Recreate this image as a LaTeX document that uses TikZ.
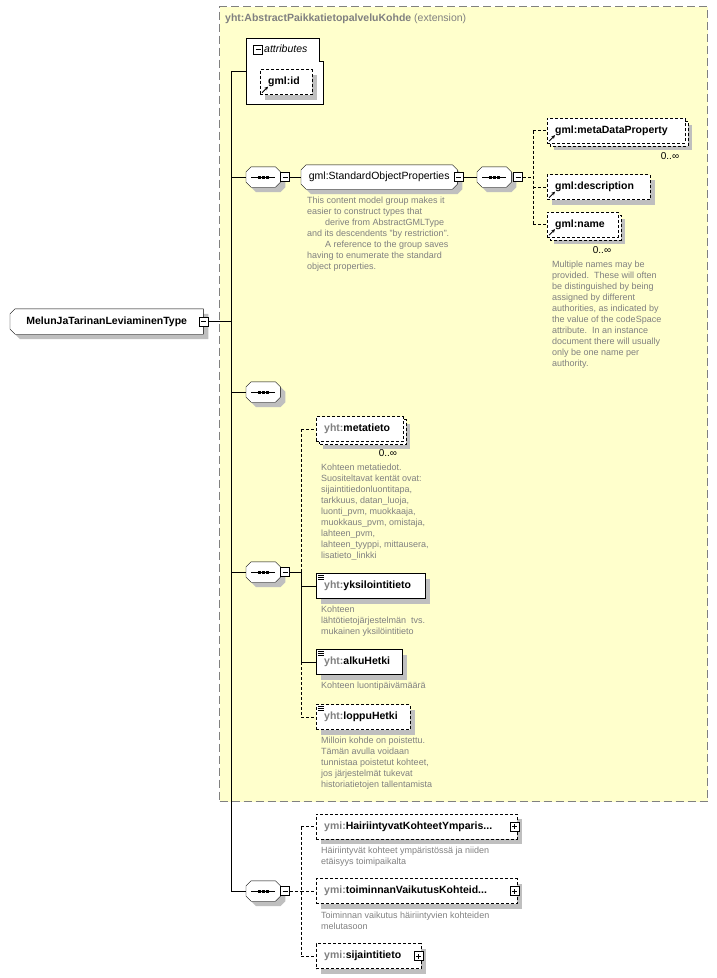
\documentclass[tikz,border=0pt]{standalone}
\usepackage{fontspec}
\setmainfont{Liberation Sans}
\usetikzlibrary{calc,arrows.meta}
\pgfdeclarelayer{back}
\pgfdeclarelayer{mid}
\pgfsetlayers{back,mid,main}
\definecolor{ybg}{RGB}{255,255,204}
\definecolor{docgray}{RGB}{128,128,128}
\definecolor{framegray}{RGB}{128,128,128}
\newcommand\lblfont{\fontsize{10.5}{12}\selectfont\bfseries}
\newcommand\grpfont{\fontsize{10.5}{12}\selectfont}
\newcommand\docfont{\fontsize{9}{11}\selectfont}
\newcommand\pfx[1]{\textcolor{docgray}{#1}}
\newcommand\refarrow[1]{\draw[line width=0.8pt,-{Stealth[length=3.5pt,width=3.5pt]}] ($(#1.south west)+(2,-2)$) -- ++(6,-6);}
\newcommand\stype[1]{\foreach \k in {2,4,6} {\draw[line width=0.7pt] ($(#1.north west)+(2,\k)$) -- ++(6,0);}}
\newcommand\seqdeco[1]{\draw[line width=0.8pt] ($(#1.center)+(-12,0)$) -- ($(#1.center)+(12,0)$);
  \foreach \k in {-4,0,4} {\fill ($(#1.center)+(\k,0)$) ++(-1.5,-1.5) rectangle ++(3,3);}}
% x, y-centre, total width, offset : grey shadow drawn before the element
\newcommand\eshadow[4]{\fill[black!25] (#1+#4,#2-12.5+#4) -- (#1+#3+#4,#2-12.5+#4) -- (#1+#3+#4,#2+12.5+#4) -- (#1+#4,#2+12.5+#4) -- cycle;}
\newcommand\ecopy[3]{\draw[dash pattern=on 3pt off 2pt,fill=white] (#1+3,#2-9.5) -- (#1+#3+3,#2-9.5) -- (#1+#3+3,#2+15.5) -- (#1+3,#2+15.5) -- cycle;}
\begin{document}
\begin{tikzpicture}[x=1pt,y=-1pt,line width=0.8pt,
  elem/.style={draw,fill=white,rectangle,anchor=west,minimum height=25pt,inner xsep=8pt,inner ysep=0pt,align=left,font=\lblfont},
  opt/.style={dash pattern=on 3pt off 2pt},
  holder/.style={anchor=west,inner sep=0pt},
  seqn/.style={holder,minimum width=34pt,minimum height=20pt},
  pmbox/.style={draw,fill=white,minimum size=9pt,inner sep=0pt,line width=0.7pt},
  minusbox/.style={pmbox,path picture={\draw[line width=0.7pt] ([xshift=2pt]path picture bounding box.west) -- ([xshift=-2pt]path picture bounding box.east);}},
  plusbox/.style={pmbox,path picture={\draw[line width=0.7pt] ([xshift=2pt]path picture bounding box.west) -- ([xshift=-2pt]path picture bounding box.east) ([yshift=2pt]path picture bounding box.south) -- ([yshift=-2pt]path picture bounding box.north);}},
  doc/.style={anchor=north west,align=left,font=\docfont,text=docgray,inner sep=0pt},
  mult/.style={font=\fontsize{10}{12}\selectfont,inner sep=0pt},
  shadowfill/.style={fill=black!25,draw=none},
]
\useasboundingbox (0,0) rectangle (717,978);
\begin{pgfonlayer}{back}
\fill[white] (0,0) rectangle (717,978);
\node[draw=framegray,dash pattern=on 8pt off 4pt,fill=ybg,anchor=north west,minimum width=488pt,minimum height=795pt,inner sep=0pt,line width=1pt] (ext) at (219,6) {};
\end{pgfonlayer}
\node[anchor=west,inner sep=0pt,text=docgray,font=\fontsize{10.5}{12}\selectfont] (title) at (225,19) {\textbf{yht:AbstractPaikkatietopalveluKohde} (extension)};

% main type
\node[holder,minimum width=193pt,minimum height=25pt,font=\lblfont] (main) at (10,321.5) {MelunJaTarinanLeviaminenType};
\node[minusbox] (mainm) at (main.east) {};
\coordinate (spT) at (231,71);

% attributes
\node[anchor=north west,minimum width=73pt,minimum height=66pt,inner sep=0pt] (attr) at (246,38) {};
\draw[fill=white] (attr.north west) -- (attr.north east) -- ([yshift=-23pt]attr.north east) -- ++(4,0) |- (attr.south west) -- cycle;
\node[minusbox] (attrm) at (258,49.5) {};
\node[anchor=west,inner sep=0pt,font=\fontsize{10.5}{12}\selectfont\itshape] (attrl) at (264,49) {attributes};
\eshadow{260}{82}{52}{5}
\node[elem,opt,text width=36pt] (gid) at (260,82) {\mbox{gml:id}};
\refarrow{gid}

% sequence 1 and StandardObjectProperties
\node[seqn] (s1) at (246,177) {};
\seqdeco{s1}
\node[minusbox] (s1m) at (285,177) {};
\node[holder,minimum width=156pt,minimum height=24pt,font=\grpfont] (sop) at (301,177) {gml:StandardObjectProperties};
\node[minusbox] (sopm) at (458.5,177) {};
\node[seqn] (s5) at (477,177) {};
\seqdeco{s5}
\node[minusbox] (s5m) at (518,177) {};
\coordinate (b5) at (533,177);
\eshadow{547}{130.5}{138}{7}
\ecopy{547}{130.5}{138}
\node[elem,opt,text width=122pt] (mdp) at (547,130.5) {\mbox{gml:metaDataProperty}};
\eshadow{547}{187}{103}{5}
\node[elem,opt,text width=87pt] (desc) at (547,187) {\mbox{gml:description}};
\eshadow{547}{224.5}{71}{7}
\ecopy{547}{224.5}{71}
\node[elem,opt,text width=55pt] (gname) at (547,224.5) {\mbox{gml:name}};
\refarrow{mdp}
\refarrow{desc}
\refarrow{gname}
\node[mult] (m1) at (670,156) {0..∞};
\node[mult] (m2) at (602,250) {0..∞};
\node[doc] (sopdoc) at (307,197) {This content model group makes it\\
easier to construct types that\\
\hspace*{18pt}derive from AbstractGMLType\\
and its descendents "by restriction".\\
\hspace*{18pt}A reference to the group saves\\
having to enumerate the standard\\
object properties.};
\node[doc] (namedoc) at (552,261) {Multiple names may be\\
provided.\ \ These will often\\
be distinguished by being\\
assigned by different\\
authorities, as indicated by\\
the value of the codeSpace\\
attribute.\ \ In an instance\\
document there will usually\\
only be one name per\\
authority.};

% sequence 2
\node[seqn] (s2) at (246,392) {};
\seqdeco{s2}

% sequence 3
\node[seqn] (s3) at (246,572) {};
\seqdeco{s3}
\node[minusbox] (s3m) at (285,572) {};
\coordinate (b3) at (301,572);
\eshadow{316}{429}{87}{7}
\ecopy{316}{429}{87}
\node[elem,opt,text width=71pt] (meta) at (316,429) {\mbox{\pfx{yht:}metatieto}};
\node[mult] (m3) at (388,453) {0..∞};
\node[doc] (metadoc) at (321,464) {Kohteen metatiedot.\\
Suositeltavat kentät ovat:\\
sijaintitiedonluontitapa,\\
tarkkuus, datan\_luoja,\\
luonti\_pvm, muokkaaja,\\
muokkaus\_pvm, omistaja,\\
lahteen\_pvm,\\
lahteen\_tyyppi, mittausera,\\
lisatieto\_linkki};
\eshadow{316}{586}{109}{5}
\node[elem,text width=93pt] (yks) at (316,586) {\mbox{\pfx{yht:}yksilointitieto}};
\stype{yks}
\node[doc] (yksdoc) at (321,606) {Kohteen\\
lähtötietojärjestelmän\ \ tvs.\\
mukainen yksilöintitieto};
\eshadow{316}{662}{86}{5}
\node[elem,text width=70pt] (alku) at (316,662) {\mbox{\pfx{yht:}alkuHetki}};
\stype{alku}
\node[doc] (alkudoc) at (321,682) {Kohteen luontipäivämäärä};
\eshadow{316}{717}{94}{5}
\node[elem,opt,text width=78pt] (loppu) at (316,717) {\mbox{\pfx{yht:}loppuHetki}};
\stype{loppu}
\node[doc] (loppudoc) at (321,737) {Milloin kohde on poistettu.\\
Tämän avulla voidaan\\
tunnistaa poistetut kohteet,\\
jos järjestelmät tukevat\\
historiatietojen tallentamista};

% sequence 4
\node[seqn] (s4) at (246,891) {};
\seqdeco{s4}
\node[minusbox] (s4m) at (285,891) {};
\coordinate (b4) at (301,891);
\eshadow{316}{826.5}{201}{5}
\node[elem,opt,text width=185pt] (hai) at (316,826.5) {\mbox{\pfx{ymi:}HairiintyvatKohteetYmparis...}};
\node[plusbox] (haip) at ([xshift=-3pt]hai.east) {};
\node[doc] (haidoc) at (321,847) {Häiriintyvät kohteet ympäristössä ja niiden\\
etäisyys toimipaikalta};
\eshadow{316}{891}{201}{5}
\node[elem,opt,text width=185pt] (toim) at (316,891) {\mbox{\pfx{ymi:}toiminnanVaikutusKohteid...}};
\node[plusbox] (toimp) at ([xshift=-3pt]toim.east) {};
\node[doc] (toimdoc) at (321,912) {Toiminnan vaikutus häiriintyvien kohteiden\\
melutasoon};
\eshadow{316}{956}{105}{5}
\node[elem,opt,text width=89pt] (sij) at (316,956) {\mbox{\pfx{ymi:}sijaintitieto}};
\node[plusbox] (sijp) at ([xshift=-3pt]sij.east) {};

% octagon outlines and their shadows (drawn beneath the nodes)
\begin{pgfonlayer}{mid}
\foreach \n in {s1,s2,s3,s4,s5,sop} {
  \path[shadowfill] ($(\n.north west)+(10,5)$) -- ($(\n.north east)+(0,5)$) -- ($(\n.north east)+(5,10)$) -- ($(\n.south east)+(5,0)$) -- ($(\n.south east)+(0,5)$) -- ($(\n.south west)+(10,5)$) -- ($(\n.south west)+(5,0)$) -- ($(\n.north west)+(5,10)$) -- cycle;
  \draw[fill=white] ($(\n.north west)+(5,0)$) -- ($(\n.north east)+(-5,0)$) -- ($(\n.north east)+(0,5)$) -- ($(\n.south east)+(0,-5)$) -- ($(\n.south east)+(-5,0)$) -- ($(\n.south west)+(5,0)$) -- ($(\n.south west)+(0,-5)$) -- ($(\n.north west)+(0,5)$) -- cycle;
}
\path[shadowfill] ($(main.north west)+(10,5)$) -- ($(main.north east)+(5,5)$) -- ($(main.south east)+(5,5)$) -- ($(main.south west)+(10,5)$) -- ($(main.south west)+(5,0)$) -- ($(main.north west)+(5,10)$) -- cycle;
\draw[fill=white] ($(main.north west)+(5,0)$) -- (main.north east) -- (main.south east) -- ($(main.south west)+(5,0)$) -- ($(main.south west)+(0,-5)$) -- ($(main.north west)+(0,5)$) -- cycle;
\end{pgfonlayer}

% connectors
\draw (mainm.east) -- (mainm.east -| spT);
\draw (spT) -- (spT |- s4.west);
\draw (spT) -- (attr.west |- spT);
\draw (spT |- s1.west) -- (s1.west);
\draw (spT |- s2.west) -- (s2.west);
\draw (spT |- s3.west) -- (s3.west);
\draw (spT |- s4.west) -- (s4.west);
\draw (s1m.east) -- (sop.west);
\draw (sopm.east) -- (s5.west);
\draw[opt] (s5m.east) -- (b5);
\draw[opt] (b5 |- mdp.west) -- (b5 |- gname.west);
\draw[opt] (b5 |- mdp.west) -- (mdp.west);
\draw[opt] (b5 |- desc.west) -- (desc.west);
\draw[opt] (b5 |- gname.west) -- (gname.west);
\draw (s3m.east) -- (b3);
\draw[opt] (b3 |- meta.west) -- (b3);
\draw (b3) -- (b3 |- alku.west);
\draw[opt] (b3 |- alku.west) -- (b3 |- loppu.west);
\draw[opt] (b3 |- meta.west) -- (meta.west);
\draw (b3 |- yks.west) -- (yks.west);
\draw (b3 |- alku.west) -- (alku.west);
\draw[opt] (b3 |- loppu.west) -- (loppu.west);
\draw[opt] (s4m.east) -- (b4);
\draw[opt] (b4 |- hai.west) -- (b4 |- sij.west);
\draw[opt] (b4 |- hai.west) -- (hai.west);
\draw[opt] (b4 |- toim.west) -- (toim.west);
\draw[opt] (b4 |- sij.west) -- (sij.west);
\end{tikzpicture}
\end{document}
